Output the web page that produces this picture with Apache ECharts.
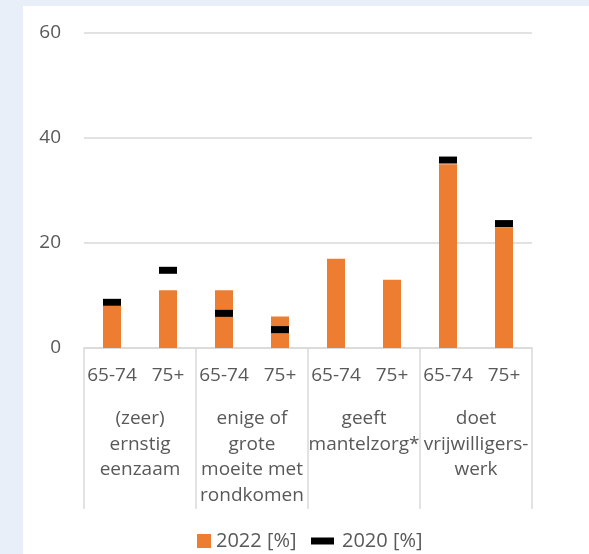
<!DOCTYPE html>
<html>
<head>
<meta charset="utf-8">
<script src="https://cdn.jsdelivr.net/npm/echarts@6/dist/echarts.min.js"></script>
<style>
  html, body { margin: 0; padding: 0; background: #e8eff9; }
  #wrap { position: absolute; left: 0; top: 0; width: 589px; height: 554px; background: #e8eff9; }
  #chart { position: absolute; left: 23px; top: 6px; width: 566px; height: 548px; background: #ffffff; }
</style>
</head>
<body>
<div id="wrap"><div id="chart"></div></div>
<script>
// ---- data ----
const ageGroups = ['65-74', '75+', '65-74', '75+', '65-74', '75+', '65-74', '75+'];
const topics = ['(zeer)\nernstig\neenzaam', 'enige of\ngrote\nmoeite met\nrondkomen', 'geeft\nmantelzorg*', 'doet\nvrijwilligers-\nwerk'];
const values2022 = [8, 11, 11, 6, 17, 13, 35, 23];
const values2020 = [8.7, 14.8, 6.6, 3.5, null, null, 35.8, 23.7];
const yTicks = [0, 20, 40, 60];
const seriesNames = ['2022 [%]', '2020 [%]'];

const OFFX = 23, OFFY = 6;
const font = '"Open Sans", "Liberation Sans", sans-serif';
const txt = '#595959';
const chart = echarts.init(document.getElementById('chart'), null, { renderer: 'canvas' });

chart.setOption({
  animation: false,
  textStyle: { fontFamily: font },
  legend: [
    {
      data: [{ name: seriesNames[0], icon: 'rect' }],
      left: 197 - OFFX,
      top: 541 - 14 - OFFY,
      padding: 0,
      itemWidth: 14,
      itemHeight: 14,
      textStyle: { color: txt, fontSize: 20, fontFamily: font, padding: [0, 0, 0, 0], lineHeight: 28 }
    },
    {
      data: [{ name: seriesNames[1], icon: 'rect', itemStyle: { color: '#000000', opacity: 1 } }],
      left: 311 - OFFX,
      top: 541 - 14 - OFFY,
      padding: 0,
      itemWidth: 23,
      itemHeight: 7,
      textStyle: { color: txt, fontSize: 20, fontFamily: font, padding: [0, 0, 0, 3], lineHeight: 28 }
    }
  ],
  grid: {
    left: 84 - OFFX,
    right: 589 - 532,
    top: 33 - OFFY,
    bottom: 554 - 348,
    containLabel: false
  },
  xAxis: [
    {
      type: 'category',
      data: ageGroups,
      position: 'bottom',
      axisLine: { show: true, lineStyle: { color: '#d9d9d9', width: 1.5 } },
      axisTick: { show: false },
      axisLabel: { color: txt, fontSize: 19, fontFamily: font, margin: 18, interval: 0 },
      splitLine: { show: false }
    },
    {
      type: 'category',
      data: topics,
      position: 'bottom',
      axisLine: { show: false },
      axisTick: { show: true, length: 161, lineStyle: { color: '#d9d9d9', width: 1.5 } },
      axisLabel: { color: txt, fontSize: 19, fontFamily: font, margin: 58, lineHeight: 25.5, interval: 0, align: 'center' },
      splitLine: { show: false }
    }
  ],
  yAxis: {
    type: 'value',
    min: yTicks[0],
    max: yTicks[yTicks.length - 1],
    interval: 20,
    axisLine: { show: false },
    axisTick: { show: false },
    axisLabel: { color: txt, fontSize: 19, fontFamily: font, margin: 23 },
    splitLine: { show: true, lineStyle: { color: '#d9d9d9', width: 1.5 } }
  },
  series: [
    {
      name: seriesNames[0],
      type: 'bar',
      xAxisIndex: 0,
      data: values2022,
      barWidth: 18,
      itemStyle: { color: '#ed7d31' },
      z: 2
    },
    {
      name: seriesNames[1],
      type: 'scatter',
      xAxisIndex: 0,
      data: values2020,
      symbol: 'rect',
      symbolSize: [18, 7],
      itemStyle: { color: '#000000', opacity: 1 },
      z: 3
    }
  ]
});
</script>
</body>
</html>
